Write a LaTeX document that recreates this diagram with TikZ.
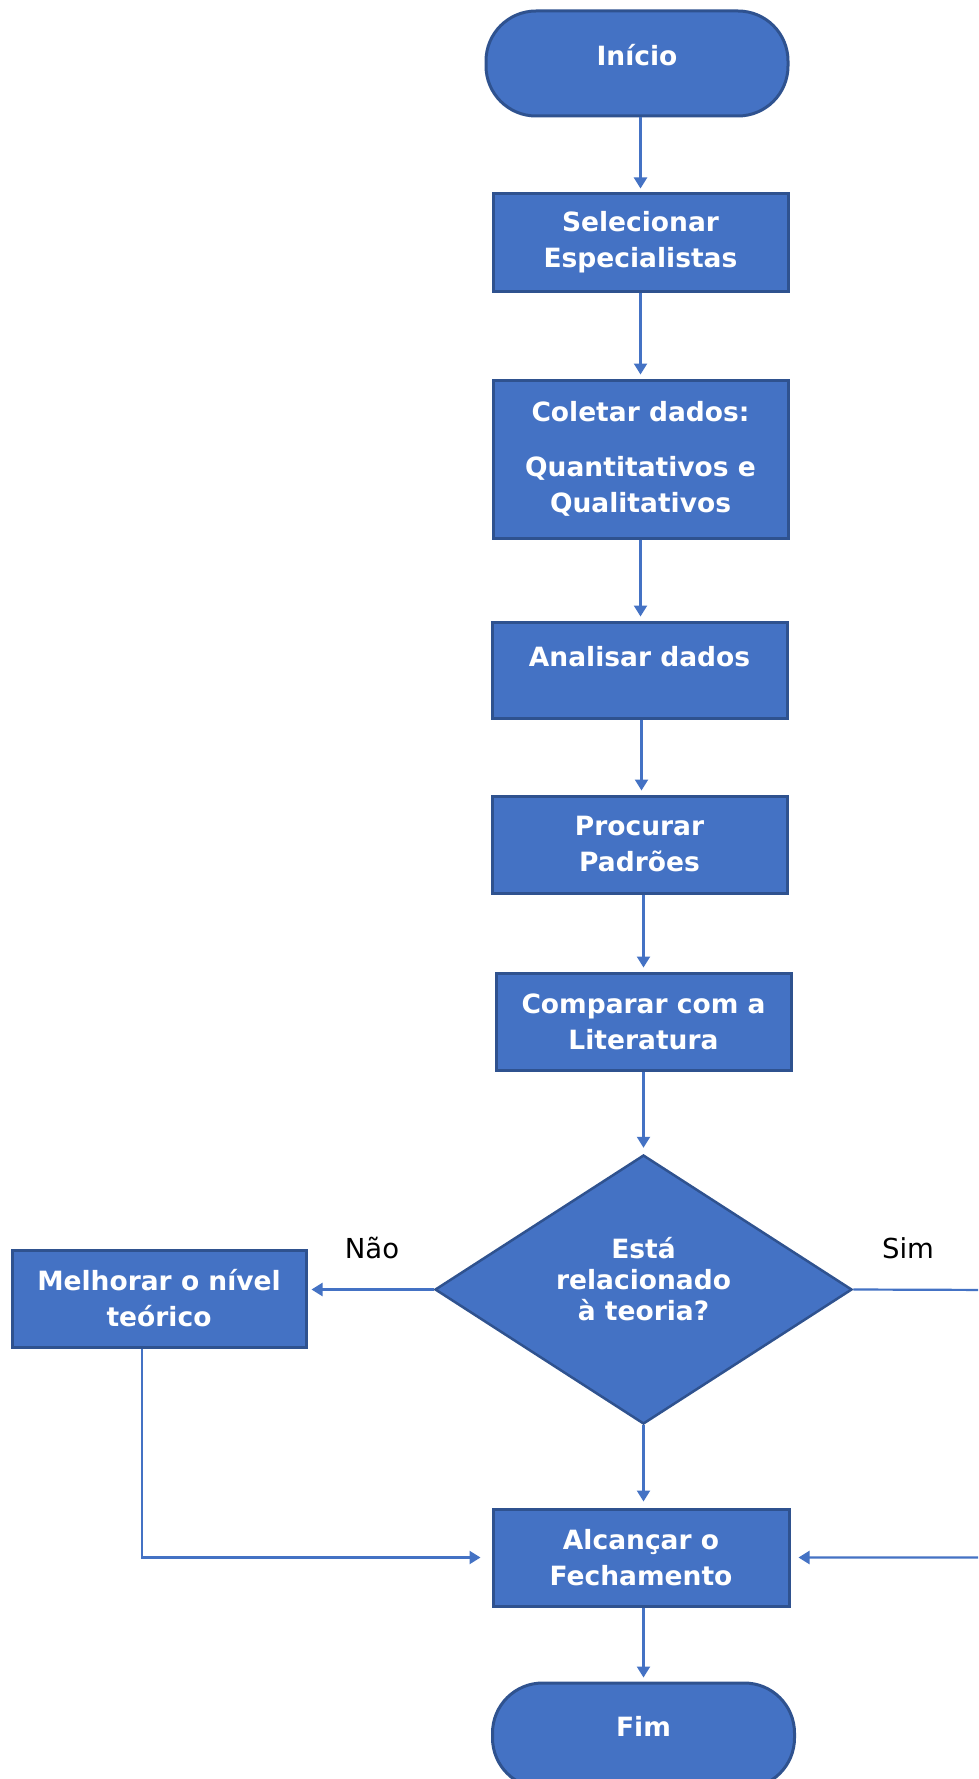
\documentclass[tikz,border=0pt]{standalone}
\usepackage{fontspec}
\setmainfont{DejaVu Sans}
\usetikzlibrary{shapes.geometric,arrows.meta,calc}
\definecolor{boxblue}{HTML}{4472C4}
\definecolor{edgeblue}{HTML}{2F528F}
\tikzset{
  stepbox/.style={rectangle, draw=edgeblue, line width=3pt, fill=boxblue,
    text=white, font=\bfseries\fontsize{26.5}{36}\selectfont, align=center,
    minimum width=295pt, minimum height=97pt, inner sep=0pt},
  terminal/.style={stepbox, rounded corners=50pt, minimum width=302pt, minimum height=105pt},
  decision/.style={diamond, shape aspect=1.55, draw=edgeblue, line width=2.5pt, fill=boxblue,
    text=white, font=\bfseries\fontsize{26.5}{31}\selectfont,
    minimum width=417pt, minimum height=269pt, inner sep=0pt},
  flow/.style={draw=boxblue, line width=2.2pt, -{Triangle[width=13pt,length=11pt]}, shorten >=4pt},
  answer/.style={font=\fontsize{27.5}{33}\selectfont, text=black}
}
\begin{document}
\begin{tikzpicture}[x=1pt,y=-1pt]
  \path[use as bounding box] (0,0) rectangle (978,1779);
  \clip (0,0) rectangle (978,1779);
  \fill[white] (0,0) rectangle (978,1779);

  % process steps (raised text sits above the box centre)
  \node[terminal] (start) at (637,63.5) {\raisebox{18pt}{Início}};
  \node[stepbox] (sel) at (640.5,242.5) {Selecionar\\Especialistas};
  \node[stepbox, minimum height=158pt] (col) at (640.5,459)
    {Coletar dados:\\[19pt]Quantitativos e\\Qualitativos};
  \node[stepbox, minimum height=96pt] (ana) at (639.5,670) {\raisebox{28pt}{Analisar dados}};
  \node[stepbox] (pro) at (639.5,844.5) {Procurar\\Padrões};
  \node[stepbox] (cmp) at (643.5,1021.5) {Comparar com a\\Literatura};
  \node[decision] (dec) at (643.5,1289.5)
    {\raisebox{0pt}[\height][\dimexpr\depth+12pt\relax]{%
      \begin{tabular}{@{}c@{}}Está\\relacionado\\à teoria?\end{tabular}}};
  \node[stepbox, minimum width=294pt] (mel) at (159,1298.5) {Melhorar o nível\\teórico};
  \node[stepbox, minimum width=296pt] (alc) at (641,1557.5) {Alcançar o\\Fechamento};
  \node[terminal] (fim) at (643.5,1735.5) {\raisebox{18pt}{Fim}};

  % branch labels
  \node[answer] (nao) at (372,1248) {Não};
  \node[answer] (sim) at (908,1248) {Sim};

  % main flow, kept vertical
  \draw[flow] (start.south -| sel.north) -- (sel.north);
  \draw[flow] (sel.south) -- (sel.south |- col.north);
  \draw[flow] (col.south) -- (col.south |- ana.north);
  \draw[flow] (ana.south -| cmp.north) ++(-2,0) coordinate (pa) -- (pa |- pro.north);
  \draw[flow] (pro.south -| cmp.north) -- (cmp.north);
  \draw[flow, shorten >=6pt] (cmp.south) -- (dec.north);
  \draw[flow, shorten >=6pt] (dec.south) -- (dec.south |- alc.north);
  \draw[flow] (alc.south -| fim.north) -- (fim.north);

  % decision branches
  \draw[flow] (dec.west) -- (dec.west -| mel.east);
  \coordinate (offright) at (1000,1290);
  \draw[flow, shorten >=8pt] (dec.east) -- (offright) |- (alc.east);
  \draw[flow, shorten >=11pt] ($(mel.south)+(-17,0)$) |- (alc.west);
\end{tikzpicture}
\end{document}
